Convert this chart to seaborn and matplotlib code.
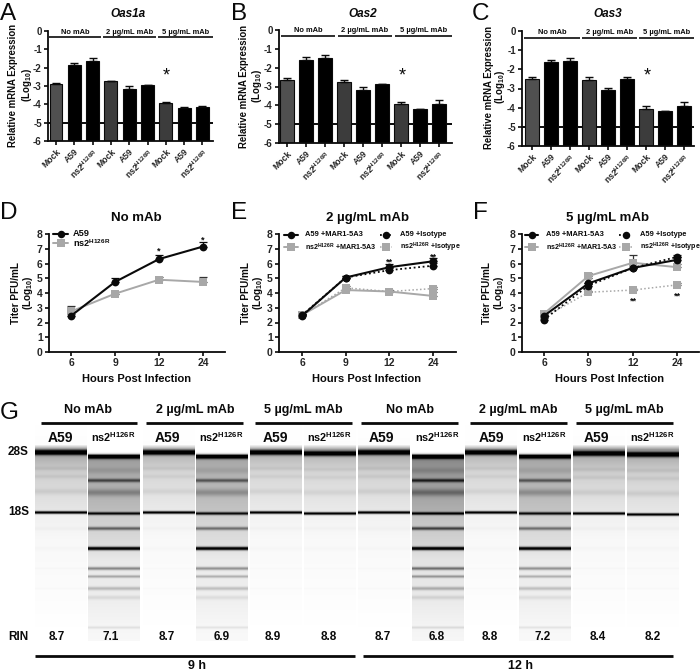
import numpy as np
import pandas as pd
import matplotlib
matplotlib.use("Agg")
import matplotlib.pyplot as plt
import seaborn as sns

# ---------- data ----------
bar_labels = ["Mock", "A59", "ns2$^{H126R}$"] * 3
oas1a_vals = [-2.9, -1.87, -1.65, -2.75, -3.17, -2.95, -3.95, -4.18, -4.13]
oas1a_errs = [0.07, 0.13, 0.17, 0.05, 0.15, 0.03, 0.1, 0.02, 0.03]
oas2_vals = [-2.68, -1.59, -1.48, -2.75, -3.17, -2.89, -3.93, -4.2, -3.93]
oas2_errs = [0.15, 0.15, 0.15, 0.1, 0.17, 0.03, 0.1, 0.02, 0.22]
oas3_vals = [-2.5, -1.63, -1.55, -2.57, -3.06, -2.52, -4.07, -4.17, -3.9]
oas3_errs = [0.1, 0.12, 0.13, 0.17, 0.07, 0.13, 0.15, 0.02, 0.2]
bar_groups = ["m1", "b", "b", "m2", "b", "b", "m2", "b", "b"]

hours = ["6", "9", "12", "24"]
d_a59 = [2.45, 4.75, 6.3, 7.15]
d_a59_err = [0.1, 0.3, 0.3, 0.3]
d_ns2 = [2.75, 3.95, 4.9, 4.75]
d_ns2_err = [0.35, 0.1, 0.2, 0.35]

e_a59_mar = [2.45, 5.05, 5.75, 6.15]
e_a59_mar_err = [0.1, 0.1, 0.2, 0.25]
e_a59_iso = [2.5, 5.05, 5.55, 5.85]
e_a59_iso_err = [0.1, 0.1, 0.15, 0.2]
e_ns2_mar = [2.5, 4.2, 4.1, 3.8]
e_ns2_mar_err = [0.1, 0.1, 0.1, 0.3]
e_ns2_iso = [2.5, 4.35, 4.1, 4.3]
e_ns2_iso_err = [0.05, 0.1, 0.1, 0.1]

f_a59_mar = [2.45, 4.65, 5.7, 6.25]
f_a59_mar_err = [0.1, 0.35, 0.15, 0.2]
f_a59_iso = [2.2, 4.5, 5.7, 6.45]
f_a59_iso_err = [0.1, 0.2, 0.1, 0.1]
f_ns2_mar = [2.6, 5.15, 6.05, 5.75]
f_ns2_mar_err = [0.1, 0.2, 0.5, 0.2]
f_ns2_iso = [2.35, 4.05, 4.2, 4.55]
f_ns2_iso_err = [0.05, 0.1, 0.1, 0.1]

# gel: band (pixel row, darkness, half-width)
a59_bands = [(452, 1.0, 2.4), (468, .06, 2), (476, .05, 2), (491, .07, 3), (512, 1.0, 1.4),
             (528, .02, 2), (548, .015, 2), (568, .015, 1), (588, .015, 1)]
ns2_bands = [(456, 1.0, 2.2), (470, .08, 3), (480, .42, 1.8), (492, .20, 3.5), (513, .75, 1.5), (528, .45, 1.7),
             (548, 1.0, 1.7), (568, .38, 1.6), (576, .26, 1.4), (588, .20, 1.8), (597, .08, 2), (627, .08, 1.3)]
a59_background = [(425, .005), (444, .01), (449, .4), (456, .32), (470, .20), (490, .14), (510, .10),
                  (515, .06), (540, .03), (600, .012), (640, .0)]
ns2_background = [(425, 0), (453, 0), (456, .40), (470, .34), (495, .30), (511, .26),
                  (515, .20), (545, .14), (560, .09), (600, .07), (625, .04), (640, .03)]
lane_lefts = [35, 88, 143, 196, 250, 304, 358, 412, 465, 519, 573, 627]
lane_kinds = ["a", "n", "a", "n", "a", "a", "a", "n", "a", "n", "a", "a"]
lane_strength = [1.0, 1.0, .85, .9, .85, .85, .95, 1.2, .85, .9, 1.0, 1.0]
lane_shift = [0, 0, 0, 0, 0, 1, 0, 0, 0, 0, 1, 2]
rin_values = ["8.7", "7.1", "8.7", "6.9", "8.9", "8.8", "8.7", "6.8", "8.8", "7.2", "8.4", "8.2"]
rin_centers = [57, 111, 167, 222, 273, 329, 383, 437, 490, 543, 598, 653]
gel_groups = ["No mAb", "2 µg/mL mAb", "5 µg/mL mAb"] * 2
gel_group_centers = [88, 195, 303, 410, 518, 624]
gel_group_spans = [(41, 137), (146, 243), (255, 352), (361, 458), (470, 567), (576, 673)]

# ---------- style ----------
sns.set_theme(style="ticks")
plt.rcParams["font.family"] = ["Liberation Sans", "DejaVu Sans"]
plt.rcParams["mathtext.fontset"] = "custom"
plt.rcParams["mathtext.bf"] = "Liberation Sans:bold"
plt.rcParams["mathtext.rm"] = "Liberation Sans:bold"
plt.rcParams["mathtext.default"] = "bf"
W, H = 700, 671
fig = plt.figure(figsize=(W / 100, H / 100), dpi=100, facecolor="white")
BLACK = "#0a0a0a"
GREY = "#a8a8a8"


def px_axes(x0, ytop, x1, ybot):
    return fig.add_axes([x0 / W, 1 - ybot / H, (x1 - x0) / W, (ybot - ytop) / H], facecolor="none")


def style_axes(ax):
    sns.despine(ax=ax)
    for s in ("left", "bottom"):
        ax.spines[s].set_linewidth(1.3)
        ax.spines[s].set_color(BLACK)
    ax.tick_params(width=1.2, length=3, color=BLACK, pad=1.5)
    ax.set_xlabel("")
    ax.set_ylabel("")


# ---------- bar panels ----------
def bar_panel(box, first, step, vals, errs):
    ax = px_axes(*box)
    df = pd.DataFrame({"i": range(len(vals)), "h": np.array(vals) + 6, "g": bar_groups})
    ax.axhline(-5, color=BLACK, lw=1.4, zorder=1)
    sns.barplot(data=df, x="i", y="h", hue="g", dodge=False, legend=False, bottom=-6, width=0.7,
                palette={"m1": "#505050", "m2": "#3c3c3c", "b": "#000000"}, edgecolor=BLACK, linewidth=0.8,
                ax=ax, zorder=2)
    ax.errorbar(df["i"], vals, yerr=[np.zeros(len(errs)), errs], fmt="none", ecolor=BLACK,
                elinewidth=1, capsize=2.6, capthick=1, zorder=3)
    ax.set_xlim((box[0] - first) / step, (box[2] - first) / step)
    ax.set_ylim(-6, 0)
    ax.set_yticks(range(-6, 1))
    ax.set_yticklabels([f"-{abs(v)}" if v else "0" for v in range(-6, 1)], fontsize=7, fontweight="bold")
    ax.set_xticks(range(len(vals)))
    ax.set_xticklabels(bar_labels, rotation=45, ha="right", rotation_mode="anchor", fontsize=6.2, fontweight="bold")
    style_axes(ax)
    return ax


bar_panel((48, 31, 213, 141), 56, 18.3, oas1a_vals, oas1a_errs)
bar_panel((279, 30, 452, 143), 287, 19, oas2_vals, oas2_errs)
bar_panel((522, 31, 694, 146), 532, 19, oas3_vals, oas3_errs)


# ---------- line panels ----------
def line_panel(box, first, step, series):
    ax = px_axes(*box)
    xs = np.arange(len(hours))
    for y, e, color, marker, ls, lw in series:
        ax.errorbar(xs, y, yerr=[np.zeros(len(e)), e], fmt="none", ecolor=BLACK if color == BLACK else "#333333",
                    elinewidth=0.9, capsize=2.6, capthick=0.9, zorder=2)
        sns.lineplot(x=xs, y=y, color=color, marker=marker, markersize=5.6 if marker == "o" else 5.2,
                     markeredgewidth=0, linewidth=lw, linestyle=ls, errorbar=None, legend=False, ax=ax, zorder=3)
    ax.set_xlim((box[0] - first) / step, (box[2] - first) / step)
    ax.set_ylim(0, 8)
    ax.set_yticks(range(9))
    ax.set_yticklabels([str(v) for v in range(9)], fontsize=7.5, fontweight="bold")
    ax.set_xticks(xs)
    ax.set_xticklabels(hours, fontsize=7.5, fontweight="bold")
    style_axes(ax)
    return ax


SOL, DOT = "-", (0, (1, 1.5))
line_panel((49, 234, 225, 352), 71, 44,
           [(d_ns2, d_ns2_err, GREY, "s", SOL, 1.4), (d_a59, d_a59_err, BLACK, "o", SOL, 1.5)])
line_panel((279, 234, 456, 352), 302, 43.7,
           [(e_ns2_iso, e_ns2_iso_err, GREY, "s", DOT, 1.1), (e_ns2_mar, e_ns2_mar_err, GREY, "s", SOL, 1.4),
            (e_a59_iso, e_a59_iso_err, BLACK, "o", DOT, 1.3), (e_a59_mar, e_a59_mar_err, BLACK, "o", SOL, 1.5)])
line_panel((522, 234, 699, 352), 544, 44.4,
           [(f_ns2_iso, f_ns2_iso_err, GREY, "s", DOT, 1.1), (f_ns2_mar, f_ns2_mar_err, GREY, "s", SOL, 1.4),
            (f_a59_iso, f_a59_iso_err, BLACK, "o", DOT, 1.3), (f_a59_mar, f_a59_mar_err, BLACK, "o", SOL, 1.5)])

# ---------- gel lanes ----------
rows = np.arange(425, 641)
for left, kind, strength, shift in zip(lane_lefts, lane_kinds, lane_strength, lane_shift):
    bands = a59_bands if kind == "a" else ns2_bands
    bg = a59_background if kind == "a" else ns2_background
    profile = np.interp(rows, [b[0] for b in bg], [b[1] for b in bg]) * strength
    for pos, dark, hw in bands:
        amp = dark if dark > 0.7 else dark * strength
        profile = np.maximum(profile, 0) + amp * np.exp(-((rows - pos - shift * (pos < 520)) / hw) ** 2)
    ax = px_axes(left, 425, left + 52, 641)
    sns.heatmap(np.clip(profile, 0, 1).reshape(-1, 1), vmin=0, vmax=1, cmap="gray_r", cbar=False,
                xticklabels=False, yticklabels=False, ax=ax)
    ax.set_xlabel("")
    ax.set_ylabel("")

# ---------- annotation overlay in pixel coordinates ----------
ov = fig.add_axes([0, 0, 1, 1], facecolor="none", zorder=10)
ov.set_xlim(0, W)
ov.set_ylim(H, 0)
ov.axis("off")


def txt(x, y, s, size=7, weight="bold", ha="center", va="center", **kw):
    ov.text(x, y, s, fontsize=size, fontweight=weight, ha=ha, va=va, color=BLACK, **kw)


def rule(x0, x1, y, lw=1.4):
    ov.plot([x0, x1], [y, y], color=BLACK, lw=lw, solid_capstyle="butt")


for letter, x, y in [("A", 0, 20), ("B", 231, 20), ("C", 472, 20), ("D", 0, 219), ("E", 231, 219), ("F", 473, 219), ("G", 0, 419)]:
    txt(x, y, letter, size=17.5, weight="normal", ha="left", va="baseline")

for title, x in [("Oas1a", 128), ("Oas2", 363), ("Oas3", 608)]:
    txt(x, 14, title, size=8.5, style="italic")
for title, x in [("No mAb", 136), ("2 µg/mL mAb", 367), ("5 µg/mL mAb", 608)]:
    txt(x, 218, title, size=9.5)

for x1, x2, yc in [(13, 27, 85), (244, 257, 86), (489, 500, 87)]:
    txt(x1, yc, "Relative mRNA Expression", size=6.9, rotation=90)
    txt(x2, yc, "(Log$_{10}$)", size=7, rotation=90)
for x1, x2 in [(16, 28), (246, 258), (487, 499)]:
    txt(x1, 293, "Titer PFU/mL", size=7.2, rotation=90)
    txt(x2, 293, "(Log$_{10}$)", size=7.2, rotation=90)
for x in (137, 367, 610):
    txt(x, 379, "Hours Post Infection", size=8)

for spans, y_line, y_text in [([(49, 101), (103, 156), (158, 213)], 37, 32),
                              ([(281, 335), (338, 392), (395, 452)], 36, 31),
                              ([(524, 580), (582, 637), (639, 694)], 38, 33)]:
    for (a, b), lab in zip(spans, ["No mAb", "2 µg/mL mAb", "5 µg/mL mAb"]):
        rule(a, b, y_line, lw=1.2)
        txt((a + b) / 2, y_text, lab, size=5.4)
for x in (166, 402, 647):
    txt(x, 76, "*", size=13, weight="normal")

for x, y, s in [(159, 251, "*"), (203, 240, "*"), (389, 262, "**"), (433, 257.5, "**"), (633, 301, "**"), (677, 296, "**")]:
    txt(x, y, s, size=6.5)


def key(x0, x1, y, color, marker, ls, lw, label, xt, size=5.4):
    ov.plot([x0, x1], [y, y], color=color, ls=ls, lw=lw)
    ov.plot([(x0 + x1) / 2], [y], color=color, marker=marker, ms=5.4, mew=0, ls="none")
    txt(xt, y, label, size=size, ha="left")


key(53, 68, 234, BLACK, "o", SOL, 1.5, "A59", 73, size=6.6)
key(53, 68, 243, GREY, "s", SOL, 1.4, "ns2$^{H126R}$", 73, size=6.6)
for a, b, c, d, t1, t2 in [(284, 298, 380, 392, 305, 400), (525, 538, 619, 632, 546, 640)]:
    key(a, b, 235, BLACK, "o", SOL, 1.5, "A59 +MAR1-5A3", t1)
    key(a, b, 247, GREY, "s", SOL, 1.4, "ns2$^{H126R}$ +MAR1-5A3", t1, size=5.1)
    key(c, d, 235, BLACK, "o", DOT, 1.3, "A59 +Isotype", t2)
    key(c, d, 247, GREY, "s", DOT, 1.1, "ns2$^{H126R}$ +Isotype", t2, size=5.1)

for lab, cx, (a, b) in zip(gel_groups, gel_group_centers, gel_group_spans):
    txt(cx, 410, lab, size=9)
    rule(a, b, 423, lw=2)
for i, cx in enumerate([60, 113, 167, 221, 275, 329, 381, 437, 491, 544, 596, 652]):
    if i % 2 == 0:
        txt(cx, 438, "A59", size=10)
    else:
        txt(cx, 437, "ns2$^{H126R}$", size=7.8)
txt(8, 452, "28S", size=8.5, ha="left")
txt(8, 512, "18S", size=8.5, ha="left")
txt(8, 637, "RIN", size=8.5, ha="left")
for cx, v in zip(rin_centers, rin_values):
    txt(cx, 637, v, size=8.5)
rule(35, 355, 656, lw=2)
rule(363, 673, 656, lw=2)
txt(197, 666, "9 h", size=9)
txt(520, 666, "12 h", size=9)

fig.savefig("out.png", dpi=100, facecolor="white")
